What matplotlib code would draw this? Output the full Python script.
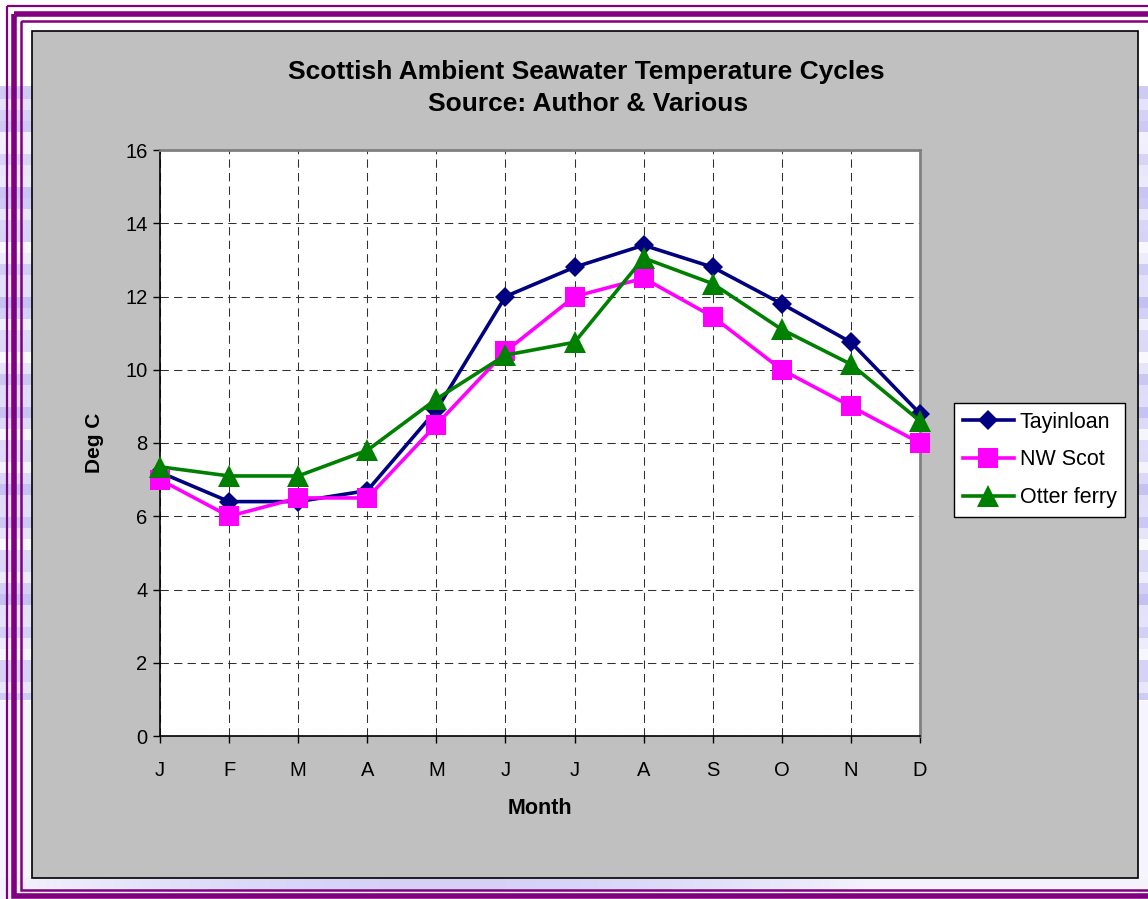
import numpy as np
import matplotlib
matplotlib.use("Agg")
import matplotlib.pyplot as plt
from matplotlib.patches import Rectangle

plt.rcParams['font.family'] = ['Liberation Sans', 'DejaVu Sans']

# ---- data -------------------------------------------------------------
months = ["J", "F", "M", "A", "M", "J", "J", "A", "S", "O", "N", "D"]
tayinloan = [7.2, 6.4, 6.4, 6.7, 8.9, 12.0, 12.8, 13.4, 12.8, 11.8, 10.75, 8.8]
nw_scot = [7.0, 6.0, 6.5, 6.5, 8.5, 10.5, 12.0, 12.5, 11.45, 10.0, 9.0, 8.0]
otter_ferry = [7.35, 7.1, 7.1, 7.8, 9.2, 10.4, 10.75, 13.05, 12.35, 11.1, 10.15, 8.6]
series_names = ["Tayinloan", "NW Scot", "Otter ferry"]
y_ticks = [0, 2, 4, 6, 8, 10, 12, 14, 16]

W, H = 1148, 899
fig = plt.figure(figsize=(W / 100, H / 100), dpi=100, facecolor="white")

# ---- page background & frame (pixel coordinates) ------------------------
bg = fig.add_axes([0, 0, 1, 1], zorder=0)
bg.set_xlim(0, W)
bg.set_ylim(H, 0)
bg.axis("off")

img = np.ones((H, W, 3))
lav = np.array([0.72, 0.70, 0.94])
rows = np.arange(H)
band = (rows // 11)
shade = 0.45 + 0.25 * np.sin(band * 1.9) + 0.15 * np.cos(band * 0.7)
shade = np.clip(shade, 0.05, 0.95)
mask_rows = (rows > 85) & (rows < 700)
shade = np.where(mask_rows, shade, 0.12 * (rows > 700))
col = 1 - shade[:, None] * (1 - lav[None, :])
img[:, :32, :] = col[:, None, :]
img[:, 1138:, :] = col[:, None, :]
xs = np.arange(W)
bshade = 0.15 + 0.45 * np.clip(np.sin(xs / W * np.pi * 1.3), 0, 1)
img[878:890, :, :] = (1 - bshade[:, None] * (1 - lav[None, :]))[None, :, :]
bg.imshow(img, extent=(0, W, H, 0), aspect="auto", zorder=0)

purple = "#800080"
for (x0, y0, y1, lw) in [(7, 6, 905, 1.6), (13.5, 13.5, 896, 4.0), (20.5, 20.5, 889.5, 1.8)]:
    bg.add_patch(Rectangle((x0, y0), W + 50 - x0, y1 - y0, fill=False,
                           edgecolor=purple, linewidth=lw, zorder=2))

# grey chart panel
bg.add_patch(Rectangle((32, 31), 1106, 847, facecolor="#C0C0C0",
                       edgecolor="black", linewidth=1.2, zorder=3))

# ---- plot area ----------------------------------------------------------
ax = fig.add_axes([160 / W, (H - 736) / H, 760 / W, 586 / H], zorder=5)
ax.set_facecolor("white")
x = np.arange(len(months))

styles = [
    dict(color="#000080", marker="D", markersize=10.5),
    dict(color="#FF00FF", marker="s", markersize=15),
    dict(color="#008000", marker="^", markersize=16.5),
]
for vals, name, st in zip([tayinloan, nw_scot, otter_ferry], series_names, styles):
    ax.plot(x, vals, linewidth=2.6, label=name, clip_on=False, zorder=4,
            markeredgewidth=0, **st)

ax.set_xlim(0, len(months) - 1)
ax.set_ylim(0, 16)
ax.set_xticks(x)
ax.set_xticklabels(months)
ax.set_yticks(y_ticks)
ax.tick_params(axis="both", labelsize=14.5, length=5, width=1, direction="out",
               colors="black")
ax.tick_params(axis="y", pad=4)
ax.tick_params(axis="x", pad=13)

ax.grid(True, color="#303030", linewidth=0.75, linestyle=(0, (8, 5)))
ax.set_axisbelow(True)

for side in ("left", "bottom"):
    ax.spines[side].set_color("black")
    ax.spines[side].set_linewidth(1.2)
for side in ("top", "right"):
    ax.spines[side].set_color("#808080")
    ax.spines[side].set_linewidth(2)

# ---- text ---------------------------------------------------------------
fig.text(586 / W, 1 - 72 / H, "Scottish Ambient Seawater Temperature Cycles",
         ha="center", va="center", fontsize=19, fontweight="bold", zorder=6)
fig.text(588 / W, 1 - 104 / H, "Source: Author & Various",
         ha="center", va="center", fontsize=19, fontweight="bold", zorder=6)
fig.text(95 / W, 1 - 443 / H, "Deg C", rotation=90, ha="center", va="center",
         fontsize=15, fontweight="bold", zorder=6)
fig.text(540 / W, 1 - 808 / H, "Month", ha="center", va="center",
         fontsize=15.5, fontweight="bold", zorder=6)

leg = fig.legend(loc="upper left", bbox_to_anchor=(954 / W, 1 - 403 / H),
                 fontsize=15.5, frameon=True, fancybox=False, shadow=False,
                 handlelength=2.4, handletextpad=0.25, labelspacing=0.78,
                 borderpad=0.4, borderaxespad=0, framealpha=1)
leg.get_frame().set_edgecolor("black")
leg.get_frame().set_facecolor("white")
leg.get_frame().set_linewidth(1.0)
leg.set_zorder(7)

fig.savefig("out.png", dpi=100, facecolor="white")
